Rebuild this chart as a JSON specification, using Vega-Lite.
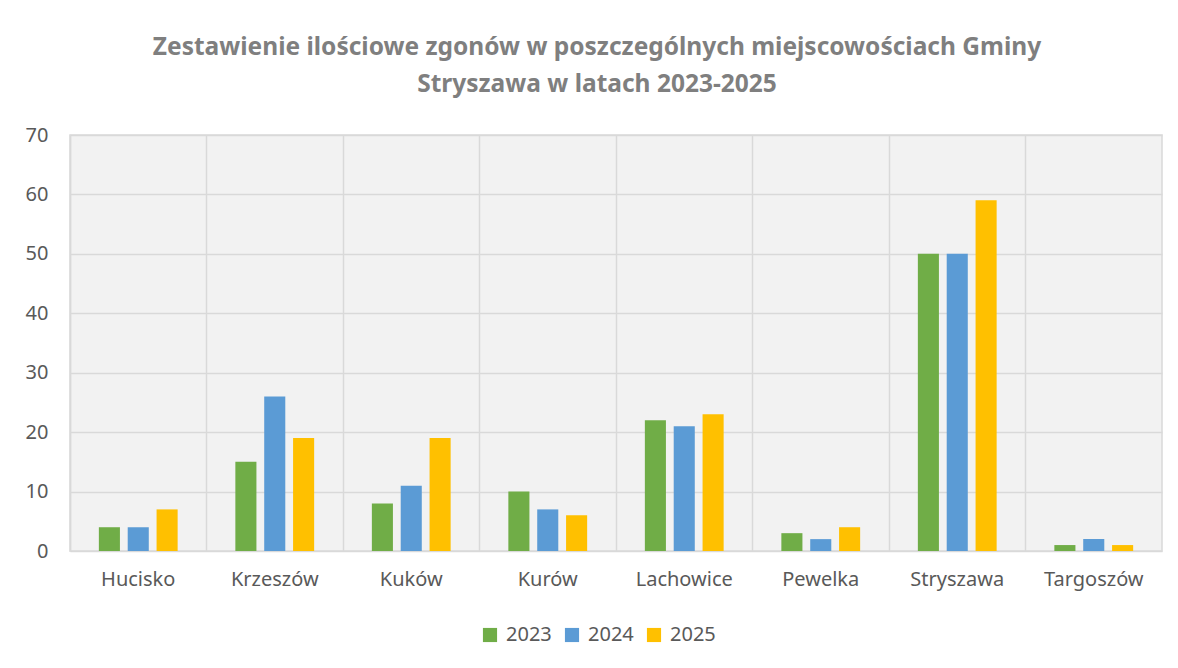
{
  "$schema": "https://vega.github.io/schema/vega-lite/v6.json",
  "autosize": "none",
  "width": 1092,
  "height": 416,
  "padding": {"left": 70, "top": 135, "right": 16, "bottom": 117},
  "background": "white",
  "title": {
    "text": ["Zestawienie ilościowe zgonów w poszczególnych miejscowościach Gminy", "Stryszawa w latach 2023-2025"],
    "font": "Noto Sans",
    "fontSize": 24.5,
    "fontWeight": "bold",
    "color": "#7f7f7f",
    "lineHeight": 37,
    "anchor": "middle",
    "dx": -19,
    "offset": 28
  },
  "data": {
    "values": [
      {"miejscowosc": "Hucisko", "rok": "2023", "zgony": 4},
      {"miejscowosc": "Hucisko", "rok": "2024", "zgony": 4},
      {"miejscowosc": "Hucisko", "rok": "2025", "zgony": 7},
      {"miejscowosc": "Krzeszów", "rok": "2023", "zgony": 15},
      {"miejscowosc": "Krzeszów", "rok": "2024", "zgony": 26},
      {"miejscowosc": "Krzeszów", "rok": "2025", "zgony": 19},
      {"miejscowosc": "Kuków", "rok": "2023", "zgony": 8},
      {"miejscowosc": "Kuków", "rok": "2024", "zgony": 11},
      {"miejscowosc": "Kuków", "rok": "2025", "zgony": 19},
      {"miejscowosc": "Kurów", "rok": "2023", "zgony": 10},
      {"miejscowosc": "Kurów", "rok": "2024", "zgony": 7},
      {"miejscowosc": "Kurów", "rok": "2025", "zgony": 6},
      {"miejscowosc": "Lachowice", "rok": "2023", "zgony": 22},
      {"miejscowosc": "Lachowice", "rok": "2024", "zgony": 21},
      {"miejscowosc": "Lachowice", "rok": "2025", "zgony": 23},
      {"miejscowosc": "Pewelka", "rok": "2023", "zgony": 3},
      {"miejscowosc": "Pewelka", "rok": "2024", "zgony": 2},
      {"miejscowosc": "Pewelka", "rok": "2025", "zgony": 4},
      {"miejscowosc": "Stryszawa", "rok": "2023", "zgony": 50},
      {"miejscowosc": "Stryszawa", "rok": "2024", "zgony": 50},
      {"miejscowosc": "Stryszawa", "rok": "2025", "zgony": 59},
      {"miejscowosc": "Targoszów", "rok": "2023", "zgony": 1},
      {"miejscowosc": "Targoszów", "rok": "2024", "zgony": 2},
      {"miejscowosc": "Targoszów", "rok": "2025", "zgony": 1}
    ]
  },
  "mark": {"type": "bar"},
  "encoding": {
    "x": {
      "field": "miejscowosc",
      "type": "nominal",
      "sort": null,
      "scale": {"paddingInner": 0, "paddingOuter": 0},
      "axis": {
        "title": null,
        "labelAngle": 0,
        "bandPosition": 0,
        "grid": true,
        "gridColor": "#d9d9d9",
        "gridWidth": 1.5,
        "ticks": false,
        "domain": false,
        "labelFont": "Noto Sans",
        "labelFontSize": 20,
        "labelColor": "#595959",
        "labelPadding": 18
      }
    },
    "xOffset": {
      "field": "rok",
      "type": "nominal",
      "scale": {"paddingInner": 0.27, "paddingOuter": 1.115}
    },
    "y": {
      "field": "zgony",
      "type": "quantitative",
      "scale": {"domain": [0, 70]},
      "axis": {
        "title": null,
        "values": [0, 10, 20, 30, 40, 50, 60, 70],
        "grid": true,
        "gridColor": "#d9d9d9",
        "gridWidth": 1.5,
        "ticks": false,
        "domain": true,
        "domainColor": "#d9d9d9",
        "domainWidth": 1.5,
        "labelFont": "Noto Sans",
        "labelFontSize": 20,
        "labelColor": "#595959",
        "labelPadding": 22
      }
    },
    "color": {
      "field": "rok",
      "type": "nominal",
      "scale": {"domain": ["2023", "2024", "2025"], "range": ["#70ad47", "#5b9bd5", "#ffc000"]},
      "legend": {
        "title": null,
        "orient": "none",
        "legendX": 410,
        "legendY": 490,
        "direction": "horizontal",
        "symbolType": "square",
        "symbolSize": 200,
        "symbolStrokeWidth": 0,
        "symbolOffset": 0,
        "labelOffset": 6,
        "labelFont": "Noto Sans",
        "labelFontSize": 20,
        "labelColor": "#595959",
        "columnPadding": 10
      }
    }
  },
  "config": {
    "view": {"fill": "#f2f2f2", "stroke": "#d9d9d9", "strokeWidth": 1.5}
  }
}
